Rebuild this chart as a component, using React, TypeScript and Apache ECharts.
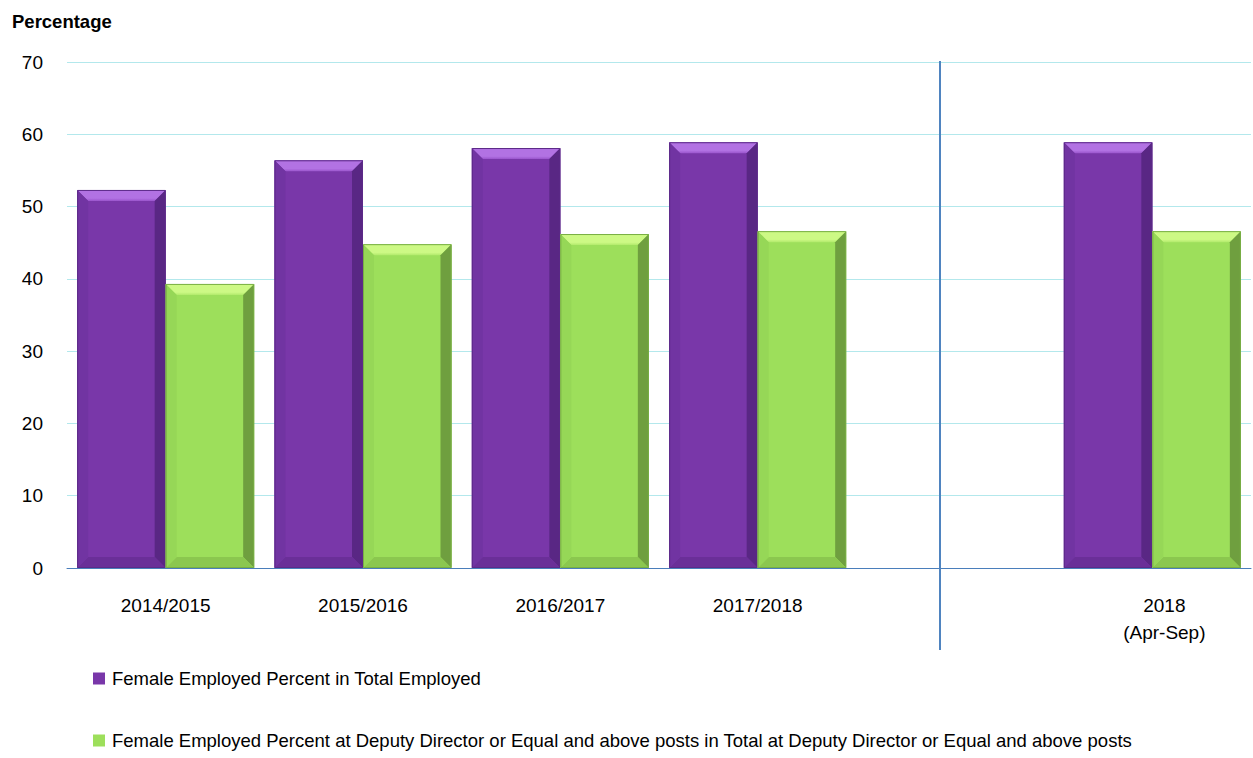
import React, { useEffect, useRef } from "react";
import * as echarts from "echarts";

const categories = ["2014/2015", "2015/2016", "2016/2017", "2017/2018", "", "2018\n(Apr-Sep)"];
const seriesNames = [
  "Female Employed Percent in Total Employed",
  "Female Employed Percent at Deputy Director or Equal and above posts in Total at Deputy Director or Equal and above posts",
];
const femaleTotal: (number | null)[] = [52.3, 56.4, 58.1, 58.9, null, 58.9];
const femaleDeputy: (number | null)[] = [39.3, 44.8, 46.2, 46.6, null, 46.6];
const yTicks = { min: 0, max: 70, interval: 10 };

const palettes = [
  {
    main: "#7937a9",
    topA: "#b272e3",
    topB: "#9a55cc",
    right: "#592784",
    bottom: "#6a2f98",
    left: "#7134a2",
    outline: "#5c2a88",
  },
  {
    main: "#9ddf5b",
    topA: "#cdf985",
    topB: "#b2ea6c",
    right: "#6f9f3f",
    bottom: "#8bc74f",
    left: "#96d757",
    outline: "#78ae44",
  },
];

const GAP_RATIO = 0.103;

function makeRenderItem(seriesIdx: number) {
  const pal = palettes[seriesIdx];
  return (params: any, api: any) => {
    const cat = api.value(0);
    const val = api.value(1);
    const base = api.coord([cat, 0]);
    const top = api.coord([cat, val]);
    const bandW = api.size([1, 0])[0];
    const barW = (bandW * (1 - GAP_RATIO)) / 2;
    const x = seriesIdx === 0 ? base[0] - barW : base[0];
    const y = top[1];
    const w = barW;
    const h = base[1] - top[1];
    const b = Math.min(11, h / 2);
    return {
      type: "group",
      children: [
        { type: "rect", shape: { x, y, width: w, height: h }, style: { fill: pal.main } },
        {
          type: "polygon",
          shape: { points: [[x, y], [x + w, y], [x + w - b, y + b], [x + b, y + b]] },
          style: {
            fill: new echarts.graphic.LinearGradient(0, 0, 0, 1, [
              { offset: 0, color: pal.topA },
              { offset: 0.75, color: pal.topA },
              { offset: 1, color: pal.topB },
            ]),
          },
        },
        {
          type: "polygon",
          shape: { points: [[x + w, y], [x + w, y + h], [x + w - b, y + h - b], [x + w - b, y + b]] },
          style: { fill: pal.right },
        },
        {
          type: "polygon",
          shape: { points: [[x, y + h], [x + w, y + h], [x + w - b, y + h - b], [x + b, y + h - b]] },
          style: { fill: pal.bottom },
        },
        {
          type: "polygon",
          shape: { points: [[x, y], [x + b, y + b], [x + b, y + h - b], [x, y + h]] },
          style: { fill: pal.left },
        },
        {
          type: "rect",
          shape: { x: x + 0.5, y: y + 0.5, width: w - 1, height: h - 1 },
          style: { fill: "none", stroke: pal.outline, lineWidth: 1 },
        },
      ],
    };
  };
}

function toData(values: (number | null)[]) {
  const out: number[][] = [];
  values.forEach((v, i) => {
    if (v !== null) out.push([i, v]);
  });
  return out;
}

export default function App() {
  const ref = useRef<HTMLDivElement>(null);
  useEffect(() => {
    if (!ref.current) return;
    document.body.style.margin = "0";
    const chart = echarts.init(ref.current, null, { renderer: "svg" });
    const font = "Liberation Sans, Arial, sans-serif";
    const legendText = { fontSize: 18.5, color: "#000", fontFamily: font, padding: [0, 0, 0, 2] };
    chart.setOption({
      animation: false,
      textStyle: { fontFamily: font },
      grid: { left: 67, right: 2, top: 62, bottom: 190, containLabel: false },
      title: {
        text: "Percentage",
        left: 12,
        top: 12,
        padding: 0,
        textStyle: { fontSize: 18.5, fontWeight: "bold", color: "#000", fontFamily: font },
      },
      legend: [
        {
          orient: "vertical",
          left: 93,
          top: 669,
          itemWidth: 12,
          itemHeight: 12,
          padding: 0,
          icon: "rect",
          data: [seriesNames[0]],
          textStyle: legendText,
        },
        {
          orient: "vertical",
          left: 93,
          top: 731,
          itemWidth: 12,
          itemHeight: 12,
          padding: 0,
          icon: "rect",
          data: [seriesNames[1]],
          textStyle: legendText,
        },
      ],
      xAxis: {
        type: "category",
        data: categories.map((c, i) =>
          i === categories.length - 1 ? { value: c, textStyle: { padding: [0, 0, 0, 24] } } : c
        ),
        axisTick: { show: false },
        axisLine: { lineStyle: { color: "#4a7ebb", width: 1 } },
        axisLabel: { fontSize: 19, color: "#000", margin: 24, lineHeight: 27, fontFamily: font },
        splitLine: { show: false },
      },
      yAxis: {
        type: "value",
        min: yTicks.min,
        max: yTicks.max,
        interval: yTicks.interval,
        axisLine: { show: false },
        axisTick: { show: false },
        axisLabel: { fontSize: 19, color: "#000", margin: 24, fontFamily: font },
        splitLine: { lineStyle: { color: "#b3e8ec", width: 1 } },
      },
      graphic: [
        {
          type: "line",
          shape: { x1: 940, y1: 61, x2: 940, y2: 650 },
          style: { stroke: "#4f84c0", lineWidth: 2 },
          z: 100,
        },
      ],
      series: [
        {
          name: seriesNames[0],
          type: "custom",
          renderItem: makeRenderItem(0),
          encode: { x: 0, y: 1 },
          itemStyle: { color: palettes[0].main },
          data: toData(femaleTotal),
        },
        {
          name: seriesNames[1],
          type: "custom",
          renderItem: makeRenderItem(1),
          encode: { x: 0, y: 1 },
          itemStyle: { color: palettes[1].main },
          data: toData(femaleDeputy),
        },
      ],
    });
    return () => chart.dispose();
  }, []);
  return <div ref={ref} style={{ width: 1253, height: 758 }} />;
}
